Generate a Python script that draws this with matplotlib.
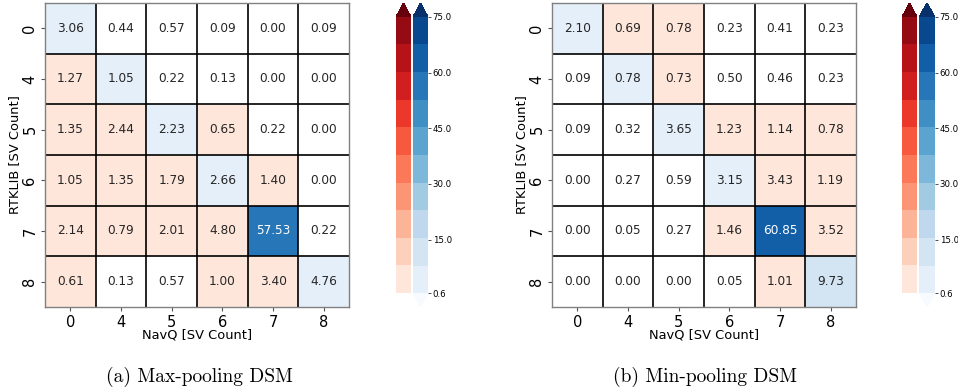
import numpy as np
import matplotlib
matplotlib.use("Agg")
import matplotlib.pyplot as plt
from matplotlib.colors import ListedColormap, BoundaryNorm
from matplotlib.cm import ScalarMappable

categories = ["0", "4", "5", "6", "7", "8"]
x_label = "NavQ [SV Count]"
y_label = "RTKLIB [SV Count]"

max_pool = [
    [3.06, 0.44, 0.57, 0.09, 0.00, 0.09],
    [1.27, 1.05, 0.22, 0.13, 0.00, 0.00],
    [1.35, 2.44, 2.23, 0.65, 0.22, 0.00],
    [1.05, 1.35, 1.79, 2.66, 1.40, 0.00],
    [2.14, 0.79, 2.01, 4.80, 57.53, 0.22],
    [0.61, 0.13, 0.57, 1.00, 3.40, 4.76],
]
min_pool = [
    [2.10, 0.69, 0.78, 0.23, 0.41, 0.23],
    [0.09, 0.78, 0.73, 0.50, 0.46, 0.23],
    [0.09, 0.32, 3.65, 1.23, 1.14, 0.78],
    [0.00, 0.27, 0.59, 3.15, 3.43, 1.19],
    [0.00, 0.05, 0.27, 1.46, 60.85, 3.52],
    [0.00, 0.00, 0.00, 0.05, 1.01, 9.73],
]
captions = ["(a) Max-pooling DSM", "(b) Min-pooling DSM"]
cbar_ticks = [0.6, 15, 30, 45, 60, 75]

W, H = 958, 392
fig = plt.figure(figsize=(W / 100, H / 100), dpi=100)

bounds = np.linspace(0.6, 75, 11)


def make_cmap(name, under_white):
    base = plt.get_cmap(name)
    cols = base(np.linspace(0, 1, 12))
    cm = ListedColormap(cols[1:11])
    cm.set_over(cols[11])
    cm.set_under("white" if under_white else cols[0])
    return cm


reds = make_cmap("Reds", True)
blues = make_cmap("Blues", False)
norm = BoundaryNorm(bounds, 10)


def px_axes(x0, y0, x1, y1):
    return fig.add_axes([x0 / W, 1 - y1 / H, (x1 - x0) / W, (y1 - y0) / H])


def heatmap(ax, data):
    d = np.array(data)
    n = d.shape[0]
    diag = np.eye(n, dtype=bool)
    ax.pcolormesh(np.ma.masked_where(~diag, d), cmap=blues, norm=norm)
    ax.pcolormesh(np.ma.masked_where(diag, d), cmap=reds, norm=norm)
    ax.set_xlim(0, n)
    ax.set_ylim(n, 0)
    ax.hlines(np.arange(1, n), 0, n, colors="black", lw=1.2)
    ax.vlines(np.arange(1, n), 0, n, colors="black", lw=1.2)
    for s in ax.spines.values():
        s.set_color("#808080")
        s.set_linewidth(1.0)
    for i in range(n):
        for j in range(n):
            v = d[i, j]
            c = "white" if v > 40 else "#262626"
            ax.text(j + 0.5, i + 0.5, f"{v:.2f}", ha="center", va="center",
                    fontsize=8.7, color=c)
    ax.set_xticks(np.arange(n) + 0.5)
    ax.set_yticks(np.arange(n) + 0.5)
    ax.set_xticklabels(categories, fontsize=10.5)
    ax.set_yticklabels(categories, fontsize=10.5, rotation=90, va="center")
    ax.tick_params(length=3, color="#555555", pad=2.5)
    ax.set_xlabel(x_label, fontsize=9.4, labelpad=-0.5)
    ax.set_ylabel(y_label, fontsize=9.4, labelpad=1)


def colorbars(xr, xb):
    ax_r = px_axes(xr[0], 3, xr[1], 293)
    ax_b = px_axes(xb[0], 3, xb[1], 307)
    cr = fig.colorbar(ScalarMappable(norm=norm, cmap=reds), cax=ax_r,
                      extend="max", extendfrac=0.05)
    cb = fig.colorbar(ScalarMappable(norm=norm, cmap=blues), cax=ax_b,
                      extend="both", extendfrac=0.05)
    for c in (cr, cb):
        c.outline.set_linewidth(0)
        c.ax.minorticks_off()
    cr.set_ticks([])
    cb.set_ticks(cbar_ticks)
    cb.set_ticklabels([f"{t:.1f}" for t in cbar_ticks])
    cb.ax.tick_params(labelsize=6.2, length=2.2, width=0.6, color="#333333",
                      pad=1.2)


ax1 = px_axes(45, 3, 349, 307)
heatmap(ax1, max_pool)
colorbars((396, 411), (413, 428))

ax2 = px_axes(552, 3, 856, 307)
heatmap(ax2, min_pool)
colorbars((902, 917), (919, 935))

fig.text(199 / W, 1 - 377 / H, captions[0], ha="center", va="center",
         fontfamily="cmr10", fontsize=14)
fig.text(705 / W, 1 - 377 / H, captions[1], ha="center", va="center",
         fontfamily="cmr10", fontsize=14)

fig.savefig("out.png", dpi=100)
